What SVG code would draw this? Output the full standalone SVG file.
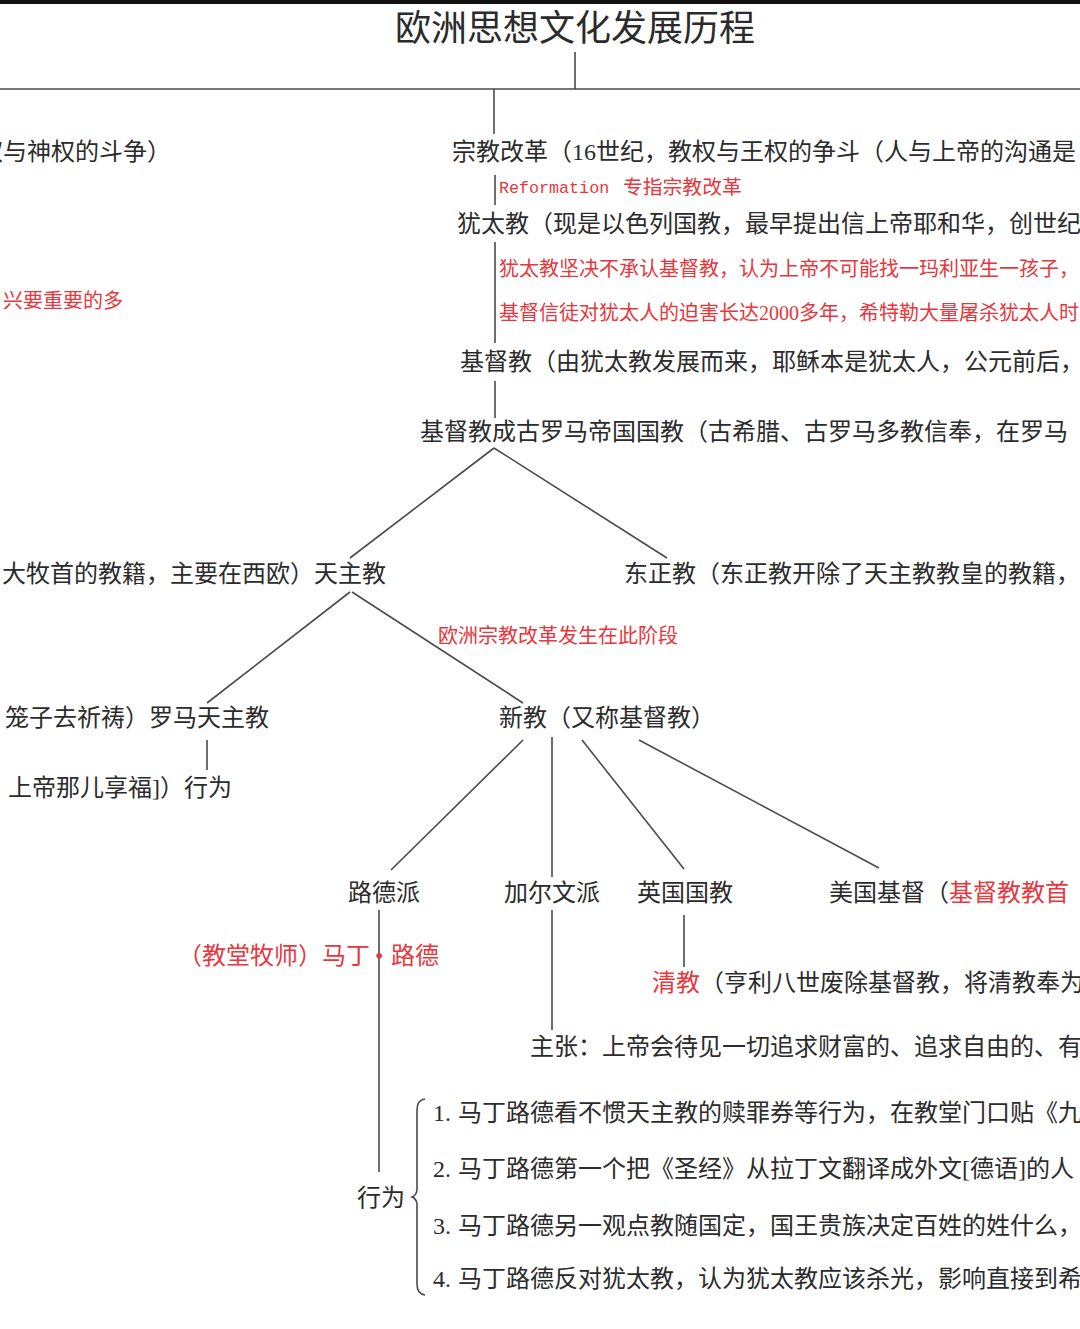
<svg xmlns="http://www.w3.org/2000/svg" width="1080" height="1329" viewBox="0 0 1080 1329">
<style>
text{font-family:"Liberation Serif","Noto Sans CJK SC",serif;fill:#2b2b2b;font-size:24px}
.t{font-size:36px}
.r{fill:#e8363c;font-size:20px}
.r24{fill:#e8363c}
.m{font-family:"Liberation Mono","Noto Sans CJK SC",monospace;fill:#e8363c;font-size:16.7px}
.c line,.c path{stroke:#4a4a4a;stroke-width:1.6;fill:none}
</style>
<rect x="0" y="0" width="1080" height="1329" fill="#ffffff"/>
<rect x="0" y="0" width="1080" height="4" fill="#111111"/>

<g id="connectors" class="c">
<line x1="575" y1="52" x2="575" y2="89"/>
<line x1="0" y1="89" x2="1080" y2="89"/>
<line x1="494" y1="89" x2="494" y2="134"/>
<line x1="495" y1="175" x2="495" y2="205"/>
<line x1="495" y1="242" x2="495" y2="343"/>
<line x1="495" y1="381" x2="495" y2="418"/>
<line x1="494" y1="448" x2="350" y2="558"/>
<line x1="494" y1="448" x2="667" y2="558"/>
<line x1="350" y1="592" x2="207" y2="703"/>
<line x1="352" y1="592" x2="523" y2="703"/>
<line x1="207" y1="740" x2="207" y2="770"/>
<line x1="523" y1="740" x2="391" y2="870"/>
<line x1="552" y1="737" x2="552" y2="877"/>
<line x1="582" y1="740" x2="684" y2="869"/>
<line x1="639" y1="740" x2="879" y2="868"/>
<line x1="379" y1="910" x2="379" y2="1172"/>
<line x1="552" y1="910" x2="552" y2="1030"/>
<line x1="684" y1="915" x2="684" y2="967"/>
<path d="M425,1099 Q417,1100 417,1110 L417,1189 Q417,1195 412,1197 Q417,1199 417,1205 L417,1284 Q417,1294 425,1295"/>
</g>

<g id="title"><text class="t" x="575" y="41" text-anchor="middle">欧洲思想文化发展历程</text></g>

<g id="left-struggle"><text x="171" y="160" text-anchor="end">权与神权的斗争）</text></g>
<g id="reformation"><text x="452" y="160">宗教改革（16世纪，教权与王权的争斗（人与上帝的沟通是</text></g>
<g id="reformation-note"><text class="m" x="499" y="193">Reformation</text><text class="r" x="623" y="194" style="font-size:19.8px">专指宗教改革</text></g>
<g id="judaism"><text x="457" y="232">犹太教（现是以色列国教，最早提出信上帝耶和华，创世纪</text></g>
<g id="judaism-note1"><text class="r" x="499" y="276">犹太教坚决不承认基督教，认为上帝不可能找一玛利亚生一孩子，</text></g>
<g id="left-note"><text class="r" x="3" y="308">兴要重要的多</text></g>
<g id="judaism-note2"><text class="r" x="499" y="320">基督信徒对犹太人的迫害长达2000多年，希特勒大量屠杀犹太人时</text></g>
<g id="christianity"><text x="460" y="370">基督教（由犹太教发展而来，耶稣本是犹太人，公元前后，</text></g>
<g id="state-religion"><text x="420" y="440">基督教成古罗马帝国国教（古希腊、古罗马多教信奉，在罗马</text></g>
<g id="catholic"><text x="386" y="582" text-anchor="end">大牧首的教籍，主要在西欧）天主教</text></g>
<g id="orthodox"><text x="624" y="582">东正教（东正教开除了天主教教皇的教籍，</text></g>
<g id="catholic-note"><text class="r" x="438" y="643">欧洲宗教改革发生在此阶段</text></g>
<g id="roman-catholic"><text x="269" y="726" text-anchor="end">笼子去祈祷）罗马天主教</text></g>
<g id="protestant"><text x="499" y="726">新教（又称基督教）</text></g>
<g id="rc-behaviour"><text x="232" y="796" text-anchor="end">上帝那儿享福]）行为</text></g>
<g id="lutheran"><text x="348" y="901">路德派</text></g>
<g id="calvinist"><text x="504" y="901">加尔文派</text></g>
<g id="anglican"><text x="637" y="901">英国国教</text></g>
<g id="american"><text x="829" y="901">美国基督（<tspan class="r24">基督教教首</tspan></text></g>
<g id="luther"><text class="r24" x="178" y="964">（教堂牧师）马丁</text><text class="r24" x="375" y="964">•</text><text class="r24" x="391" y="964">路德</text></g>
<g id="puritan"><text x="652" y="991"><tspan class="r24">清教</tspan>（亨利八世废除基督教，将清教奉为</text></g>
<g id="calvin-claim"><text x="530" y="1055">主张：上帝会待见一切追求财富的、追求自由的、有</text></g>
<g id="luther-behaviour">
<text x="357" y="1206">行为</text>
<text x="433" y="1121">1.<tspan x="458">马丁路德看不惯天主教的赎罪券等行为，在教堂门口贴《九</tspan></text>
<text x="433" y="1177">2.<tspan x="458">马丁路德第一个把《圣经》从拉丁文翻译成外文[德语]的人</tspan></text>
<text x="433" y="1234">3.<tspan x="458">马丁路德另一观点教随国定，国王贵族决定百姓的姓什么，</tspan></text>
<text x="433" y="1287">4.<tspan x="458">马丁路德反对犹太教，认为犹太教应该杀光，影响直接到希</tspan></text>
</g>
</svg>
